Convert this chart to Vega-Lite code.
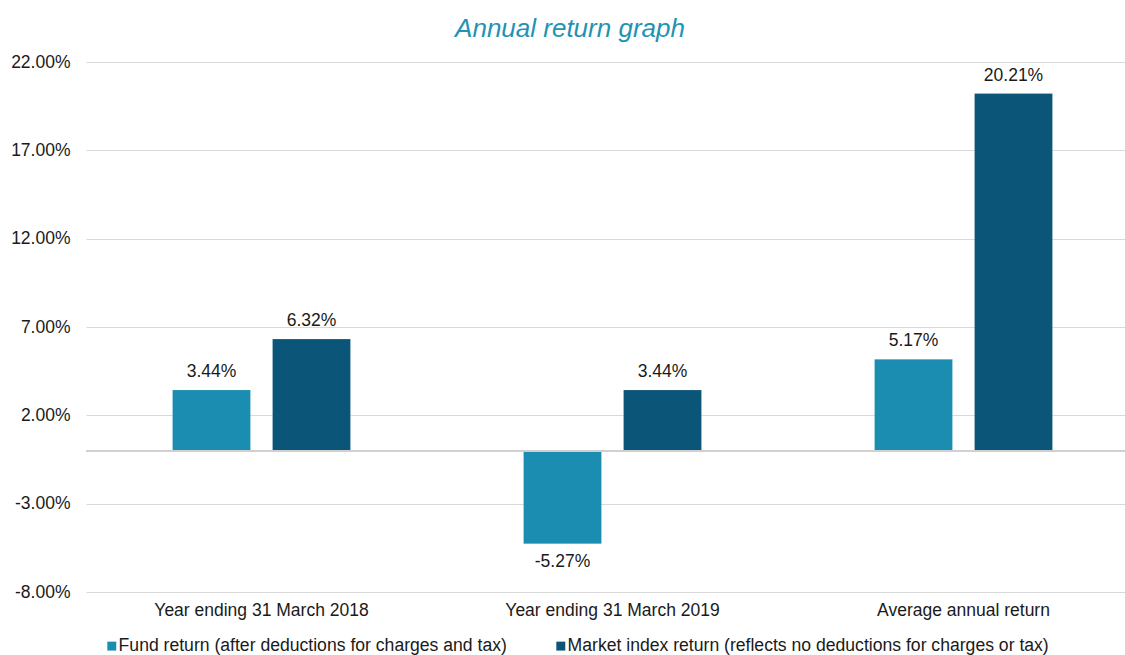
{
  "$schema": "https://vega.github.io/schema/vega-lite/v6.json",
  "width": 1040,
  "height": 530,
  "padding": {"left": 10, "top": 16, "right": 0, "bottom": 0},
  "background": "white",
  "config": {
    "locale": {"number": {"decimal": ".", "thousands": ",", "grouping": [3], "currency": ["$", ""], "minus": "-", "percent": "%"}},
    "view": {"stroke": null},
    "font": "Liberation Sans"
  },
  "title": {
    "text": "Annual return graph",
    "font": "Liberation Sans",
    "fontSize": 26,
    "fontStyle": "italic",
    "fontWeight": "normal",
    "color": "#1f93b4",
    "anchor": "middle",
    "dx": -36,
    "offset": 11
  },
  "data": {
    "values": [
      {"period": "Year ending 31 March 2018", "series": "Fund return (after deductions for charges and tax)", "value": 0.0344},
      {"period": "Year ending 31 March 2018", "series": "Market index return (reflects no deductions for charges or tax)", "value": 0.0632},
      {"period": "Year ending 31 March 2019", "series": "Fund return (after deductions for charges and tax)", "value": -0.0527},
      {"period": "Year ending 31 March 2019", "series": "Market index return (reflects no deductions for charges or tax)", "value": 0.0344},
      {"period": "Average annual return", "series": "Fund return (after deductions for charges and tax)", "value": 0.0517},
      {"period": "Average annual return", "series": "Market index return (reflects no deductions for charges or tax)", "value": 0.2021}
    ]
  },
  "encoding": {
    "x": {
      "field": "period",
      "type": "nominal",
      "sort": null,
      "scale": {"range": [0, 1053], "paddingInner": 0, "paddingOuter": 0},
      "axis": {
        "title": null,
        "labelAngle": 0,
        "labelFontSize": 17.5,
        "labelColor": "#1a1a1a",
        "labelFont": "Liberation Sans",
        "labelPadding": 9,
        "labelLimit": 400,
        "ticks": false,
        "domain": false
      }
    },
    "xOffset": {
      "field": "series",
      "type": "nominal",
      "scale": {"paddingInner": 0.22, "paddingOuter": 0.865}
    },
    "y": {
      "field": "value",
      "type": "quantitative",
      "scale": {"domain": [-0.08, 0.22], "nice": false, "zero": false},
      "axis": {
        "title": null,
        "values": [-0.08, -0.03, 0.02, 0.07, 0.12, 0.17, 0.22],
        "format": ".2%",
        "labelFontSize": 17.5,
        "labelColor": "#1a1a1a",
        "labelFont": "Liberation Sans",
        "labelPadding": 16,
        "ticks": false,
        "domain": false,
        "gridColor": "#d9d9d9",
        "gridWidth": 1
      }
    }
  },
  "layer": [
    {
      "mark": {"type": "bar", "stroke": "#ffffff", "strokeWidth": 0.5, "strokeOpacity": 0.4},
      "encoding": {
        "color": {
          "field": "series",
          "type": "nominal",
          "scale": {"range": ["#1a8db0", "#0a5578"]},
          "legend": {
            "title": null,
            "orient": "none",
            "direction": "horizontal",
            "legendX": 17,
            "legendY": 575,
            "symbolType": "square",
            "symbolSize": 80,
            "symbolStrokeWidth": 0,
            "labelFontSize": 17.6,
            "labelColor": "#1a1a1a",
            "labelFont": "Liberation Sans",
            "labelOffset": -2,
            "columnPadding": 45,
            "labelLimit": 600
          }
        }
      }
    },
    {
      "mark": {"type": "rule", "color": "#d0d0d0", "strokeWidth": 1.5},
      "encoding": {"y": {"datum": 0}, "x": null, "xOffset": null}
    },
    {
      "transform": [{"filter": "datum.value >= 0"}],
      "mark": {"type": "text", "baseline": "bottom", "dy": -9, "fontSize": 17.5, "color": "#1a1a1a", "font": "Liberation Sans"},
      "encoding": {"text": {"field": "value", "type": "quantitative", "format": ".2%"}}
    },
    {
      "transform": [{"filter": "datum.value < 0"}],
      "mark": {"type": "text", "baseline": "top", "dy": 9, "fontSize": 17.5, "color": "#1a1a1a", "font": "Liberation Sans"},
      "encoding": {"text": {"field": "value", "type": "quantitative", "format": ".2%"}}
    }
  ]
}
